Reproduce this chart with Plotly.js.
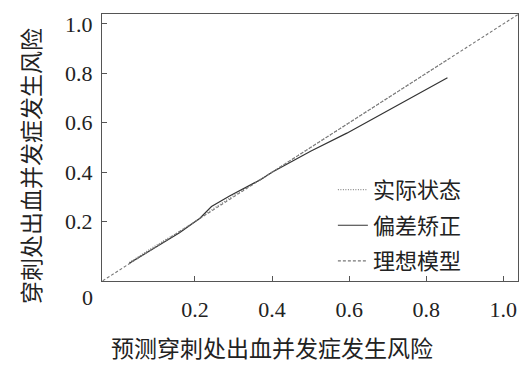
<!DOCTYPE html>
<html>
<head>
<meta charset="utf-8">
<script src="https://cdn.plot.ly/plotly-3.0.1.min.js"></script>
<style>html,body{margin:0;padding:0;background:#fff;}#chart{width:530px;height:367px;}</style>
</head>
<body>
<div id="chart"></div>
<script>
// Data
const apparentX = [0.03, 0.10, 0.16, 0.21, 0.25, 0.30, 0.38, 0.45, 0.55, 0.65, 0.75, 0.86];
const apparentY = [0.035, 0.105, 0.16, 0.21, 0.255, 0.305, 0.38, 0.45, 0.55, 0.65, 0.75, 0.86];
const correctedX = [0.03, 0.11, 0.16, 0.213, 0.243, 0.291, 0.369, 0.40, 0.45, 0.50, 0.594, 0.723, 0.855];
const correctedY = [0.032, 0.108, 0.155, 0.214, 0.261, 0.305, 0.369, 0.40, 0.443, 0.485, 0.558, 0.669, 0.782];
const idealX = [-0.05, 1.05];
const idealY = [-0.05, 1.05];
const tickVals = [0.2, 0.4, 0.6, 0.8, 1.0];
const tickText = ['0.2', '0.4', '0.6', '0.8', '1.0'];
const names = ['实际状态', '偏差矫正', '理想模型'];
const xTitle = '预测穿刺处出血并发症发生风险';
const yTitle = '穿刺处出血并发症发生风险';

const cjk = '"Noto Sans CJK SC", "Noto Sans", sans-serif';
const serif = '"Liberation Serif", "DejaVu Serif", serif';

const traces = [
  {x: apparentX, y: apparentY, name: names[0], mode: 'lines', legendgroup: 'a',
   line: {color: '#8a8a8a', width: 1.2, dash: '1px,1.5px'}},
  {x: correctedX, y: correctedY, name: names[1], mode: 'lines', legendgroup: 'b',
   line: {color: '#333333', width: 1.2, dash: 'solid'}},
  {x: idealX, y: idealY, name: names[2], mode: 'lines', legendgroup: 'c',
   line: {color: '#777777', width: 1.1, dash: '3px,2px'}}
];

const axisCommon = {
  showgrid: false, zeroline: false, showline: true, mirror: true,
  linecolor: '#555', linewidth: 1,
  ticks: 'inside', ticklen: 5, tickcolor: '#555', tickwidth: 1,
  tickmode: 'array', tickvals: tickVals, ticktext: tickText,
  tickfont: {family: serif, size: 22, color: '#222'}
};

const layout = {
  width: 530, height: 367,
  margin: {l: 102, r: 12, t: 14, b: 86},
  paper_bgcolor: '#fff', plot_bgcolor: '#fff',
  xaxis: Object.assign({}, axisCommon, {range: [-0.041, 1.038], ticklabelstandoff: 9}),
  yaxis: Object.assign({}, axisCommon, {range: [-0.04, 1.04], ticklabelstandoff: 4}),
  showlegend: true,
  legend: {
    x: 0.555, y: 0.42, xanchor: 'left', yanchor: 'top',
    bgcolor: 'rgba(0,0,0,0)', borderwidth: 0,
    font: {family: cjk, size: 22, color: '#222'},
    itemwidth: 30, tracegroupgap: 4
  },
  annotations: [
    {text: xTitle, xref: 'paper', yref: 'paper', x: (271.5 - 102) / 416, y: (367 - 347 - 86) / 267,
     xanchor: 'center', yanchor: 'middle', showarrow: false,
     font: {family: cjk, size: 23, color: '#222'}},
    {text: yTitle, xref: 'paper', yref: 'paper', x: (30 - 102) / 416, y: (281 - 166) / 267,
     xanchor: 'center', yanchor: 'middle', showarrow: false, textangle: -90,
     font: {family: cjk, size: 23, color: '#222'}},
    {text: '0', xref: 'paper', yref: 'paper', x: (87 - 102) / 416, y: (281 - 297) / 267,
     xanchor: 'center', yanchor: 'middle', showarrow: false,
     font: {family: serif, size: 22, color: '#222'}}
  ]
};

Plotly.newPlot('chart', traces, layout, {displayModeBar: false, staticPlot: true});
</script>
</body>
</html>
